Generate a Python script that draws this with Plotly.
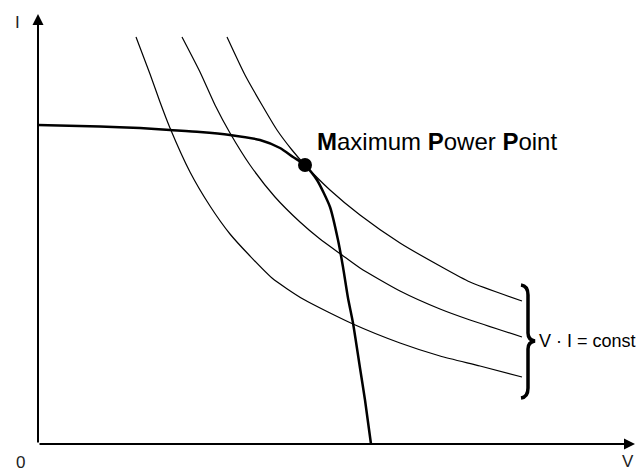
import plotly.graph_objects as go

# I-V characteristic
iv_v = [0, 62, 102, 132, 162, 192, 222, 242, 255, 267, 279, 292, 300, 305, 310, 315, 322, 327, 333]
iv_i = [319, 317.5, 316, 314, 312, 309, 304, 296, 287, 279, 264, 237, 204, 177, 146, 121, 76, 44, 0]

# constant-power hyperbolas
top_v = [189, 207, 224, 239, 254, 267, 292, 322, 362, 402, 432, 484]
top_i = [407, 369, 339, 314, 294, 279, 254, 229, 201, 178, 162, 143]
mid_v = [144, 162, 177, 192, 212, 237, 262, 282, 304, 322, 362, 402, 432, 484]
mid_i = [407, 372, 339, 311, 279, 247, 222, 205, 189, 176, 153, 135, 124, 107]
bot_v = [98, 112, 122, 132, 152, 172, 192, 212, 234, 265, 315, 362, 402, 442, 484]
bot_i = [407, 370, 342, 316, 272, 238, 210, 188, 166, 145, 120, 101, 88, 78, 67]

mpp_v = [267]
mpp_i = [279]

FONT = "Liberation Sans, Arial, Helvetica, sans-serif"

fig = go.Figure()
for vv, ii in [(top_v, top_i), (mid_v, mid_i), (bot_v, bot_i)]:
    fig.add_trace(go.Scatter(x=vv, y=ii, mode="lines",
                             line=dict(color="black", width=1.2, shape="spline", smoothing=0.6),
                             hoverinfo="skip", showlegend=False))
fig.add_trace(go.Scatter(x=iv_v, y=iv_i, mode="lines",
                         line=dict(color="black", width=2.5, shape="spline", smoothing=0.6),
                         hoverinfo="skip", showlegend=False))
fig.add_trace(go.Scatter(x=mpp_v, y=mpp_i, mode="markers",
                         marker=dict(color="black", size=14),
                         hoverinfo="skip", showlegend=False))

# axes with arrows
fig.add_annotation(x=0, y=430, ax=0, ay=0, xref="x", yref="y", axref="x", ayref="y",
                   showarrow=True, arrowhead=2, arrowsize=1.1, arrowwidth=2, arrowcolor="black",
                   standoff=0, text="")
fig.add_annotation(x=597, y=0, ax=0, ay=0, xref="x", yref="y", axref="x", ayref="y",
                   showarrow=True, arrowhead=2, arrowsize=1.1, arrowwidth=2, arrowcolor="black",
                   standoff=0, text="")

# labels
lab = dict(family=FONT, size=17, color="#222")
fig.add_annotation(x=-21, y=422, text="I", showarrow=False, font=lab, xanchor="center", yanchor="middle")
fig.add_annotation(x=-18, y=-18, text="0", showarrow=False, font=lab, xanchor="center", yanchor="middle")
fig.add_annotation(x=590, y=-17, text="V", showarrow=False, font=lab, xanchor="center", yanchor="middle")

fig.add_annotation(x=277, y=303, text="<b>M</b>aximum <b>P</b>ower <b>P</b>oint", showarrow=False,
                   font=dict(family=FONT, size=24, color="black"), xanchor="left", yanchor="middle")
fig.add_annotation(x=499, y=103, text="V · I = const", showarrow=False,
                   font=dict(family=FONT, size=18, color="black"), xanchor="left", yanchor="middle")

# brace
fig.add_shape(type="path", xref="x", yref="y",
              path="M 483,159 Q 490,158 490,149 L 490,111 Q 490,104 497,103 Q 490,102 490,95 L 490,56 Q 490,47 483,46",
              line=dict(color="black", width=3.5))

fig.update_layout(
    width=638, height=468,
    margin=dict(l=0, r=0, t=0, b=0),
    plot_bgcolor="white", paper_bgcolor="white",
    xaxis=dict(range=[-38, 600], visible=False, fixedrange=True),
    yaxis=dict(range=[-24, 444], visible=False, fixedrange=True),
)
fig.write_html("out.html", config={"displayModeBar": False},
               post_script="document.body.style.margin='0';document.body.style.overflow='hidden';")
